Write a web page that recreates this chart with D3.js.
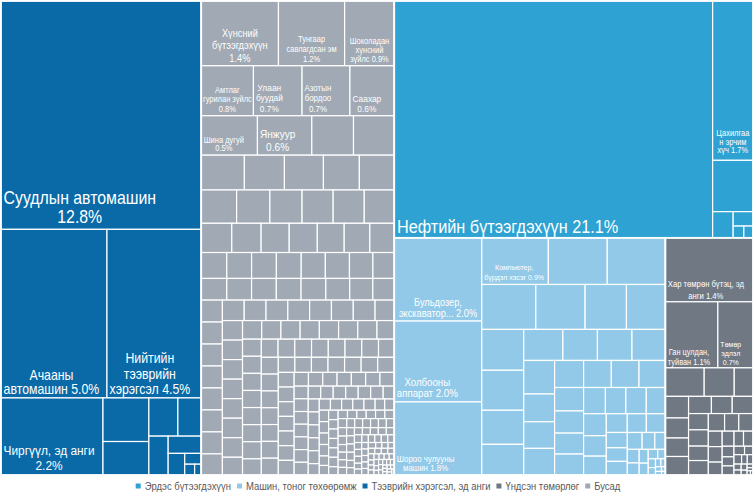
<!DOCTYPE html>
<html><head><meta charset="utf-8">
<script src="https://cdn.jsdelivr.net/npm/d3@7"></script>
<style>body{margin:0;background:#fff} svg{display:block}</style>
</head><body>
<svg id="chart" width="753" height="499"></svg>
<script>
// ---- DATA ----
const groupNames = ["Эрдэс бүтээгдэхүүн", "Машин, тоног төхөөрөмж", "Тээврийн хэрэгсэл, эд анги", "Үндсэн төмөрлөг", "Бусад"];
const groupColors = ["#2EA2D2", "#92C9E8", "#0A6AA8", "#6F7883", "#A0A9B4"];

const mineralNames = ["Нефтийн бүтээгдэхүүн", "Цахилгаан эрчим хүч"];
const mineralValues = [21.1, 1.8];
const mineralRest = [0.58, 0.15, 0.08, 0.035, 0.03];

const machineNames = ["Бульдозер, экскаватор", "Холбооны аппарат", "Шороо чулууны машин", "Компьютер, бүрдэл хэсэг"];
const machineValues = [2.04, 1.98, 1.79, 0.87];
const machineRest = [0.77, 0.76, 0.68, 0.62, 0.52, 0.49, 0.48, 0.47, 0.4, 0.36, 0.34, 0.3, 0.3, 0.29, 0.29,
  0.24, 0.23, 0.23, 0.22, 0.21, 0.21, 0.2, 0.19, 0.18, 0.17, 0.17, 0.16, 0.15, 0.15, 0.14, 0.14, 0.13, 0.12,
  0.11, 0.1, 0.1, 0.09, 0.08, 0.08, 0.07, 0.06, 0.05, 0.045, 0.04, 0.035, 0.03, 0.025, 0.02, 0.018, 0.015,
  0.012, 0.01, 0.008, 0.006, 0.005, 0.004];

const transportNames = ["Суудлын автомашин", "Ачааны автомашин", "Нийтийн тээврийн хэрэгсэл", "Чиргүүл, эд анги"];
const transportValues = [12.8, 5.0, 4.45, 2.2];
const transportRest = [0.56, 0.43, 0.31, 0.25, 0.21, 0.16, 0.1, 0.05, 0.03, 0.02];

const metalNames = ["Хар төмрөн бүтэц, эд анги", "Ган цулдан, туйван", "Төмөр эдлэл"];
const metalValues = [1.57, 0.97, 0.65];
const metalRest = [0.31, 0.24, 0.15, 0.14, 0.13, 0.12, 0.12, 0.11, 0.1, 0.1, 0.09, 0.09, 0.08, 0.08, 0.08,
  0.07, 0.07, 0.06, 0.06, 0.05, 0.05, 0.04, 0.04, 0.035, 0.03, 0.03, 0.025, 0.02, 0.02, 0.015, 0.015, 0.012,
  0.01, 0.01, 0.008, 0.006, 0.005, 0.004, 0.003];

const otherNames = ["Хүнсний бүтээгдэхүүн", "Тунгаар савлагдсан эм", "Шоколадан хүнсний зүйлс", "Амтлаг гурилан зүйлс",
  "Улаан буудай", "Азотын бордоо", "Саахар", "Шина дугуй", "Янжуур"];
const otherValues = [1.4, 1.2, 0.9, 0.73, 0.68, 0.67, 0.62, 0.62, 0.6];
const otherRest = [0.46, 0.45,
  0.42, 0.39, 0.38, 0.35, 0.34,
  0.33, 0.31, 0.3, 0.29, 0.29, 0.28,
  0.25, 0.24, 0.23, 0.23, 0.22, 0.21, 0.2,
  0.185, 0.18, 0.18, 0.18, 0.175, 0.175, 0.17,
  0.155, 0.155, 0.15, 0.15, 0.15, 0.15, 0.145, 0.14,
  0.13, 0.13, 0.13, 0.13, 0.13, 0.13, 0.13, 0.13,
  0.125, 0.125, 0.125, 0.125, 0.125, 0.125, 0.125, 0.125,
  0.11, 0.11, 0.11, 0.11, 0.11, 0.11, 0.11, 0.11,
  0.1, 0.1, 0.1, 0.1, 0.1, 0.1, 0.1, 0.1,
  0.09, 0.09, 0.09, 0.09, 0.09, 0.09, 0.09, 0.09,
  0.085, 0.085, 0.085, 0.085, 0.085, 0.085, 0.085, 0.085,
  0.08, 0.08, 0.08, 0.08, 0.08, 0.08, 0.08, 0.08,
  0.07, 0.07, 0.07, 0.07, 0.07, 0.07, 0.07,
  0.065, 0.065, 0.065, 0.065, 0.065, 0.065, 0.065,
  0.055, 0.055, 0.055, 0.055, 0.055, 0.055, 0.055,
  0.05, 0.05, 0.05, 0.05, 0.05, 0.05, 0.05,
  0.045, 0.045, 0.045, 0.045, 0.045, 0.045,
  0.04, 0.04, 0.04, 0.04, 0.04, 0.04,
  0.035, 0.035, 0.035, 0.035, 0.035, 0.035,
  0.03, 0.03, 0.03, 0.03, 0.03, 0.03,
  0.025, 0.025, 0.025, 0.025, 0.025, 0.025, 0.025, 0.025,
  0.022, 0.022, 0.022, 0.022, 0.022, 0.022, 0.022, 0.022,
  0.02, 0.02, 0.02, 0.02, 0.02, 0.02, 0.02, 0.02,
  0.018, 0.018, 0.018, 0.018, 0.018, 0.018, 0.018, 0.018,
  0.016, 0.016, 0.016, 0.016, 0.016, 0.016, 0.016, 0.016,
  0.014, 0.014, 0.014, 0.014, 0.014, 0.014, 0.014, 0.014,
  0.012, 0.012, 0.012, 0.012, 0.012, 0.012, 0.012, 0.012,
  0.01, 0.01, 0.01, 0.01, 0.01, 0.01, 0.01, 0.01,
  0.008, 0.008, 0.008, 0.008, 0.008, 0.008, 0.008, 0.008,
  0.006, 0.006, 0.006, 0.006, 0.006, 0.006, 0.006, 0.006,
  0.004, 0.004, 0.004, 0.004, 0.004, 0.004, 0.004, 0.004];

// label texts (wrapped as in the picture)
const labelLines = {
  "Суудлын автомашин": ["Суудлын автомашин", "12.8%"],
  "Ачааны автомашин": ["Ачааны", "автомашин 5.0%"],
  "Нийтийн тээврийн хэрэгсэл": ["Нийтийн", "тээврийн", "хэрэгсэл 4.5%"],
  "Чиргүүл, эд анги": ["Чиргүүл, эд анги", "2.2%"],
  "Нефтийн бүтээгдэхүүн": ["Нефтийн бүтээгдэхүүн 21.1%"],
  "Цахилгаан эрчим хүч": ["Цахилгаа", "н эрчим", "хүч 1.7%"],
  "Бульдозер, экскаватор": ["Бульдозер,", "экскаватор... 2.0%"],
  "Холбооны аппарат": ["Холбооны", "аппарат 2.0%"],
  "Шороо чулууны машин": ["Шороо чулууны", "машин 1.8%"],
  "Компьютер, бүрдэл хэсэг": ["Компьютер,", "бүрдэл хэсэг 0.9%"],
  "Хар төмрөн бүтэц, эд анги": ["Хар төмрөн бүтэц, эд", "анги 1.4%"],
  "Ган цулдан, туйван": ["Ган цулдан,", "туйван 1.1%"],
  "Төмөр эдлэл": ["Төмөр", "эдлэл", "0.7%"],
  "Хүнсний бүтээгдэхүүн": ["Хүнсний", "бүтээгдэхүүн", "1.4%"],
  "Тунгаар савлагдсан эм": ["Тунгаар", "савлагдсан эм", "1.2%"],
  "Шоколадан хүнсний зүйлс": ["Шоколадан", "хүнсний", "зүйлс 0.9%"],
  "Амтлаг гурилан зүйлс": ["Амтлаг", "гурилан зүйлс", "0.8%"],
  "Улаан буудай": ["Улаан", "буудай", "0.7%"],
  "Азотын бордоо": ["Азотын", "бордоо", "0.7%"],
  "Саахар": ["Саахар", "0.6%"],
  "Шина дугуй": ["Шина дугуй", "0.5%"],
  "Янжуур": ["Янжуур", "0.6%"]
};

// ---- STYLE ----
const labelStyle = {
  "Суудлын автомашин": {fs: 18, lh: 19, pad: 6},
  "Ачааны автомашин": {fs: 14, lh: 14.5, pad: 3.5},
  "Нийтийн тээврийн хэрэгсэл": {fs: 14, lh: 15.5, pad: 3.5},
  "Чиргүүл, эд анги": {fs: 13.5, lh: 15, pad: 5},
  "Нефтийн бүтээгдэхүүн": {fs: 18.5, lh: 20, pad: 5},
  "Цахилгаан эрчим хүч": {fs: 8.5, lh: 8.5, pad: 7, align: "center"},
  "Бульдозер, экскаватор": {fs: 10.5, lh: 11.5, pad: 4, align: "center"},
  "Холбооны аппарат": {fs: 11, lh: 11.7, pad: 4.5},
  "Шороо чулууны машин": {fs: 9, lh: 9.3, pad: 4},
  "Компьютер, бүрдэл хэсэг": {fs: 8, lh: 10, pad: 4},
  "Хар төмрөн бүтэц, эд анги": {fs: 8.7, lh: 11.5, pad: 3},
  "Ган цулдан, туйван": {fs: 8.4, lh: 9.4, pad: 3},
  "Төмөр эдлэл": {fs: 8, lh: 9, pad: 3},
  "Хүнсний бүтээгдэхүүн": {fs: 10.5, lh: 12.3, pad: 4, align: "center"},
  "Тунгаар савлагдсан эм": {fs: 8.5, lh: 10, pad: 4, align: "center"},
  "Шоколадан хүнсний зүйлс": {fs: 8.5, lh: 8.8, pad: 4, align: "center"},
  "Амтлаг гурилан зүйлс": {fs: 8.5, lh: 9.5, pad: 4, align: "center"},
  "Улаан буудай": {fs: 9.5, lh: 10.5, pad: 4},
  "Азотын бордоо": {fs: 9, lh: 10.5, pad: 4},
  "Саахар": {fs: 9.5, lh: 10, pad: 4},
  "Шина дугуй": {fs: 8.5, lh: 8.5, pad: 4},
  "Янжуур": {fs: 11.5, lh: 12.7, pad: 4}
};
const SX = 0.88;              // horizontal text compression seen in the picture
const FONT = "'Liberation Sans', Arial, sans-serif";

// ---- BUILD ----
function leaves(names, vals, rest) {
  return names.map((n, i) => ({name: n, value: vals[i]}))
    .concat(rest.map(v => ({name: "", value: v})));
}
const data = {name: "root", children: [
  {name: groupNames[0], children: leaves(mineralNames, mineralValues, mineralRest)},
  {name: groupNames[1], children: leaves(machineNames, machineValues, machineRest)},
  {name: groupNames[2], children: leaves(transportNames, transportValues, transportRest)},
  {name: groupNames[3], children: leaves(metalNames, metalValues, metalRest)},
  {name: groupNames[4], children: leaves(otherNames, otherValues, otherRest)}
]};
const color = d3.scaleOrdinal().domain(groupNames).range(groupColors);

// squarified tiling with a free aspect target (d3's own squarify clamps ratio >= 1);
// rows are laid out with d3.treemapDice / d3.treemapSlice
function squarifyFree(ratio) {
  return function(parent, x0, y0, x1, y1) {
    const nodes = parent.children, n = nodes.length;
    let value = parent.value, i0 = 0, i1 = 0;
    while (i0 < n) {
      const dx = x1 - x0, dy = y1 - y0;
      let sumValue;
      do sumValue = nodes[i1++].value; while (!sumValue && i1 < n);
      let minValue = sumValue, maxValue = sumValue;
      const alpha = Math.max(dy / dx, dx / dy) / (value * ratio);
      let beta = sumValue * sumValue * alpha;
      let minRatio = Math.max(maxValue / beta, beta / minValue);
      for (; i1 < n; ++i1) {
        const nv = nodes[i1].value;
        sumValue += nv;
        if (nv < minValue) minValue = nv;
        if (nv > maxValue) maxValue = nv;
        beta = sumValue * sumValue * alpha;
        const newRatio = Math.max(maxValue / beta, beta / minValue);
        if (newRatio > minRatio) { sumValue -= nv; break; }
        minRatio = newRatio;
      }
      const row = {value: sumValue, children: nodes.slice(i0, i1)};
      if (dx < dy) d3.treemapDice(row, x0, y0, x1, value ? (y0 += dy * sumValue / value) : y1);
      else d3.treemapSlice(row, x0, y0, value ? (x0 += dx * sumValue / value) : x1, y1);
      value -= sumValue; i0 = i1;
    }
  };
}

const root = d3.hierarchy(data).sum(d => d.value || 0).sort((a, b) => b.value - a.value);
const sqRoot = squarifyFree(0.7), sqInner = d3.treemapSquarify.ratio(1);
d3.treemap()
  .tile((node, x0, y0, x1, y1) => (node.depth === 0 ? sqRoot : sqInner)(node, x0, y0, x1, y1))
  .size([752, 474]).round(false)(root);

const svg = d3.select("#chart");
const plot = svg.append("g").attr("transform", "translate(1,1)");

plot.selectAll("rect.leaf").data(root.leaves()).join("rect")
  .attr("class", "leaf")
  .attr("x", d => d.x0).attr("y", d => d.y0)
  .attr("width", d => Math.max(0, d.x1 - d.x0)).attr("height", d => Math.max(0, d.y1 - d.y0))
  .attr("fill", d => color(d.parent.data.name))
  .attr("stroke", "#fff").attr("stroke-width", 1.2);

plot.selectAll("rect.grp").data(root.children).join("rect")
  .attr("class", "grp")
  .attr("x", d => d.x0).attr("y", d => d.y0)
  .attr("width", d => d.x1 - d.x0).attr("height", d => d.y1 - d.y0)
  .attr("fill", "none").attr("stroke", "#fff").attr("stroke-width", 1.6);

// labels
root.leaves().filter(d => labelLines[d.data.name]).forEach(d => {
  const lines = labelLines[d.data.name];
  const st = labelStyle[d.data.name];
  const g = plot.append("g");
  const texts = lines.map(t => g.append("text").text(t)
    .attr("font-family", FONT).attr("font-size", st.fs).attr("fill", "#fff")
    .attr("text-anchor", "middle"));
  const w = d3.max(texts, t => t.node().getComputedTextLength());
  const bw = w * SX;
  const left = st.align === "center" ? (d.x0 + d.x1) / 2 - bw / 2 : d.x0 + 2.5;
  const lastBase = d.y1 - st.pad;
  texts.forEach((t, i) => t.attr("x", w / 2).attr("y", lastBase - (lines.length - 1 - i) * st.lh));
  g.attr("transform", `translate(${left},0) scale(${SX},1)`);
});

// legend
const legend = svg.append("g");
let cursor = 0;
groupNames.forEach((name, i) => {
  const it = legend.append("g").attr("transform", `translate(${cursor},0)`);
  it.append("rect").attr("x", 0).attr("y", -2.5).attr("width", 5).attr("height", 5).attr("fill", groupColors[i]);
  const t = it.append("text").text(name).attr("font-family", FONT).attr("font-size", 10.5)
    .attr("fill", "#595959").attr("dominant-baseline", "central")
    .attr("transform", `translate(9,0) scale(0.9,1)`);
  const w = t.node().getComputedTextLength() * 0.9;
  cursor += 9 + w + 6;
});
const total = cursor - 6;
legend.attr("transform", `translate(${378 - total / 2},486)`);
</script>
</body></html>
